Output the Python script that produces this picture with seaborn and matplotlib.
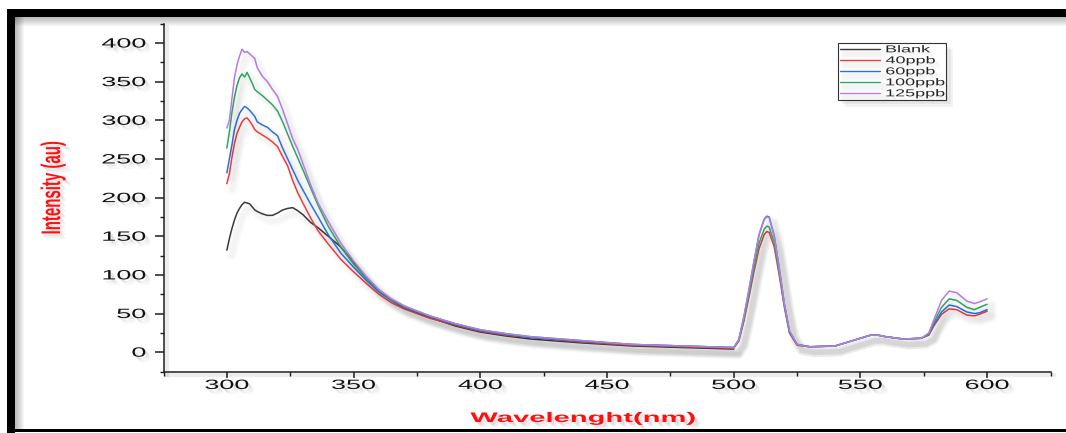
import matplotlib
matplotlib.use("Agg")
import matplotlib.pyplot as plt
import matplotlib.patheffects as pe
from matplotlib.transforms import Affine2D
from matplotlib.patches import Rectangle
from matplotlib.ticker import MultipleLocator
import pandas as pd
import seaborn as sns

# ---------------- data ----------------
wl_uv = [300, 301, 302, 303, 304, 305, 306, 307, 308, 309, 310, 311, 312, 314, 316, 318,
         320, 322, 324, 326, 328, 330, 333, 336, 340, 345, 350, 355, 360, 365, 370, 380,
         390, 400, 410, 420, 440, 460, 480, 500]
wl_vis = [502, 504, 506, 508, 510, 512, 513, 514, 516, 518, 520, 522, 525, 530, 540, 547,
          554, 557, 560, 567, 574, 577, 579, 582, 585, 588, 592, 595, 597, 600]

blank = [132, 147, 160, 171, 180, 186, 191, 194, 193, 192, 188, 184, 182, 179, 177, 177,
         180, 184, 186, 187, 183, 178, 168, 161, 150, 136, 116, 96, 79, 67, 57, 45,
         34, 26, 21, 17, 12, 8, 6, 4]

ppb40 = [218, 231, 252, 270, 283, 291, 298, 302, 303, 299, 294, 288, 285, 281, 277, 272,
         266, 253, 241, 222, 206, 193, 174, 157, 140, 120, 104, 89, 75, 64, 56, 44,
         35, 27, 22, 19, 13, 9, 7, 5,
         14, 40, 71, 104, 134, 152, 156, 155, 136, 99, 58, 25, 9, 7, 8, 15,
         22, 22, 20, 17, 18, 22, 34, 49, 56, 55, 48, 47, 49, 53]

ppb60 = [232, 250, 268, 288, 300, 309, 314, 318, 316, 313, 309, 305, 298, 294, 291, 285,
         280, 264, 250, 236, 222, 210, 192, 175, 152, 128, 110, 93, 78, 67, 58, 46,
         36, 28, 23, 19, 14, 10, 8, 6,
         16, 45, 80, 117, 152, 172, 176, 175, 150, 108, 62, 27, 10, 7, 8, 15,
         22, 22, 20, 17, 18, 23, 36, 52, 61, 59, 52, 50, 51, 55]

ppb100 = [264, 285, 310, 330, 345, 355, 360, 356, 362, 355, 348, 340, 337, 332, 326, 320,
          312, 298, 282, 266, 251, 236, 213, 190, 163, 136, 114, 96, 80, 68, 59, 47,
          37, 29, 24, 20, 15, 10, 8, 6,
          15, 42, 75, 109, 141, 159, 163, 162, 141, 102, 60, 26, 10, 7, 8, 15,
          22, 22, 20, 17, 18, 24, 39, 58, 69, 67, 58, 55, 58, 62]

ppb125 = [290, 300, 328, 355, 372, 383, 392, 388, 389, 386, 383, 380, 368, 357, 350, 340,
          331, 314, 295, 276, 262, 244, 217, 193, 169, 141, 118, 98, 81, 69, 60, 47,
          37, 29, 24, 20, 15, 10, 8, 6,
          16, 46, 81, 118, 152, 171, 175, 174, 150, 108, 63, 28, 10, 7, 8, 15,
          22, 22, 20, 17, 18, 25, 42, 67, 79, 77, 66, 63, 65, 69]

labels = ["Blank", "40ppb", "60ppb", "100ppb", "125ppb"]
colors = ["#3a3a3a", "#f23b3b", "#2a72e0", "#2fa862", "#b57be6"]
x_ticks = [300, 350, 400, 450, 500, 550, 600]
y_ticks = [0, 50, 100, 150, 200, 250, 300, 350, 400]

wl_all = wl_uv + wl_vis
frames = [pd.DataFrame({"Wavelength": wl_uv, "Intensity": blank, "Sample": "Blank"})]
for lab, vals in zip(labels[1:], [ppb40, ppb60, ppb100, ppb125]):
    frames.append(pd.DataFrame({"Wavelength": wl_all, "Intensity": vals, "Sample": lab}))
df = pd.concat(frames, ignore_index=True)

# ---------------- style ----------------
sns.set_theme(style="ticks")
plt.rcParams["font.family"] = ["Liberation Sans", "DejaVu Sans"]


class Stretch(pe.AbstractPathEffect):
    """Draw text stretched horizontally (the reference image is squashed vertically)."""

    def __init__(self, sx=2.0, anchor="center", shift=0.0, shadow=0.10):
        super().__init__()
        self.sx, self.anchor, self.shift, self.shadow = sx, anchor, shift, shadow

    def draw_path(self, renderer, gc, tpath, affine, rgbFace=None):
        ext = tpath.get_extents(affine)
        if self.anchor == "left":
            a = ext.x0
        elif self.anchor == "right":
            a = ext.x1
        else:
            a = 0.5 * (ext.x0 + ext.x1)
        a += self.shift
        t = affine + Affine2D().translate(-a, 0).scale(self.sx, 1).translate(a, 0)
        if self.shadow:
            for d, al in ((2.5, 1.0), (4.0, 0.7), (5.5, 0.45)):
                gc0 = renderer.new_gc()
                gc0.copy_properties(gc)
                gc0.set_foreground("none")
                gc0.set_alpha(self.shadow * al)
                gc0.set_linewidth(0)
                renderer.draw_path(gc0, tpath, t + Affine2D().translate(d, -d),
                                   (0.3, 0.3, 0.3))
                gc0.restore()
        renderer.draw_path(gc, tpath, t, rgbFace)


W, H = 1066, 433
fig = plt.figure(figsize=(W / 100, H / 100), dpi=100)
fig.patch.set_facecolor("white")
ax_l, ax_r, ax_t, ax_b = 163.5, 1050.5, 23.7, 371.5
ax = fig.add_axes([ax_l / W, 1 - ax_b / H, (ax_r - ax_l) / W, (ax_b - ax_t) / H])

sns.lineplot(data=df, x="Wavelength", y="Intensity", hue="Sample", hue_order=labels,
             palette=colors, estimator=None, linewidth=1.1, ax=ax, legend=True)

line_shadow = [pe.SimpleLineShadow(offset=(3.5, -4), shadow_color="k", alpha=0.018, linewidth=7),
               pe.SimpleLineShadow(offset=(3.5, -4), shadow_color="k", alpha=0.025, linewidth=4),
               pe.Normal()]
for ln in ax.lines:
    ln.set_path_effects(line_shadow)

ax.set_xlim(275, 625)
ax.set_ylim(-25, 425)
ax.set_xticks(x_ticks)
ax.set_yticks(y_ticks)
ax.xaxis.set_minor_locator(MultipleLocator(25))
ax.yaxis.set_minor_locator(MultipleLocator(25))
ax.set_facecolor("white")
ax.grid(False)

for s in ["top", "right"]:
    ax.spines[s].set_visible(False)
spine_shadow = [pe.SimpleLineShadow(offset=(2.5, -2.5), shadow_color="k", alpha=0.08, linewidth=3),
                pe.Normal()]
for s in ["left", "bottom"]:
    ax.spines[s].set_color("#1e1e1e")
    ax.spines[s].set_linewidth(1.1)
    ax.spines[s].set_path_effects(spine_shadow)

ax.tick_params(axis="x", which="major", length=4.3, width=1.1, color="#1e1e1e",
               direction="out", pad=1.8, labelsize=9.7, labelcolor="#111111")
ax.tick_params(axis="x", which="minor", length=2.6, width=1.0, color="#1e1e1e", direction="out")
ax.tick_params(axis="y", which="major", length=6.5, width=1.1, color="#1e1e1e",
               direction="out", pad=6.2, labelsize=9.7, labelcolor="#111111")
ax.tick_params(axis="y", which="minor", length=3.2, width=1.0, color="#1e1e1e", direction="out")

for lab in ax.get_xticklabels():
    lab.set_path_effects([Stretch(2.0, "center")])
for lab in ax.get_yticklabels():
    lab.set_path_effects([Stretch(2.0, "right")])

ax.set_xlabel("Wavelenght(nm)", fontsize=10, fontweight="bold", color="#ff1010")
ax.xaxis.label.set_va("center")
ax.xaxis.set_label_coords((583 - ax_l) / (ax_r - ax_l), (ax_b - 418) / (ax_b - ax_t))
ax.xaxis.label.set_path_effects([Stretch(2.1, "center")])

ax.set_ylabel("Intensity (au)", fontsize=10.8, fontweight="bold", color="#ff1010")
ax.yaxis.label.set_va("center")
ax.yaxis.label.set_ha("center")
ax.yaxis.set_label_coords((53 - ax_l) / (ax_r - ax_l), (ax_b - 188) / (ax_b - ax_t))
ax.yaxis.label.set_path_effects([Stretch(1.8, "center")])

handles, labs = ax.get_legend_handles_labels()
leg = ax.legend(handles, labs, loc="upper left",
                bbox_to_anchor=((838 - ax_l) / (ax_r - ax_l), (ax_b - 42.5) / (ax_b - ax_t)),
                borderaxespad=0, frameon=True, fancybox=False, framealpha=1,
                edgecolor="#333333", fontsize=7.2, handlelength=4.0, handletextpad=3.15,
                borderpad=0.18, labelspacing=0.1)
leg.get_frame().set_linewidth(0.8)
leg.get_frame().set_path_effects([
    pe.SimplePatchShadow(offset=(3, -3), shadow_rgbFace="k", alpha=0.06),
    pe.SimplePatchShadow(offset=(5, -5), shadow_rgbFace="k", alpha=0.05),
    pe.Normal()])
for h in leg.get_lines():
    h.set_linewidth(1.0)
for t in leg.get_texts():
    t.set_path_effects([Stretch(1.8, "left", shift=32, shadow=0.05)])


# ---------------- screenshot frame ----------------
def px_rect(x0, y0, x1, y1, **kw):
    fig.add_artist(Rectangle((x0 / W, 1 - y1 / H), (x1 - x0) / W, (y1 - y0) / H,
                             transform=fig.transFigure, linewidth=0, **kw))


for i in range(9):
    px_rect(15, 17, W, 17 + (i + 1), facecolor="k", alpha=0.035)
    px_rect(15, 17, 15 + (i + 1), 429, facecolor="k", alpha=0.035)
px_rect(7, 9, W, 17, facecolor="black")
px_rect(7, 9, 15, H, facecolor="black")
px_rect(7, 429, W, 432, facecolor="black")

fig.savefig("out.png", dpi=100, facecolor="white")
